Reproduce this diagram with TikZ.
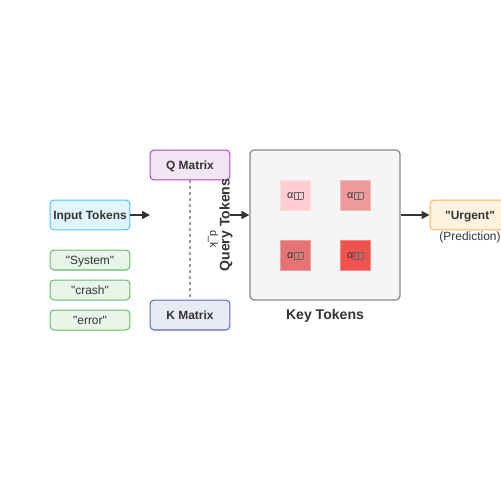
\documentclass[tikz,border=0pt]{standalone}
\usepackage{fontspec}
\setmainfont{Liberation Sans}[Ligatures=TeXOff]
\usetikzlibrary{arrows.meta}

\definecolor{inkgray}{HTML}{333333}
\definecolor{inputfill}{HTML}{E1F5FE}
\definecolor{inputdraw}{HTML}{4FC3F7}
\definecolor{wordfill}{HTML}{E8F5E9}
\definecolor{worddraw}{HTML}{66BB6A}
\definecolor{qfill}{HTML}{F3E5F5}
\definecolor{qdraw}{HTML}{AB47BC}
\definecolor{kfill}{HTML}{E8EAF6}
\definecolor{kdraw}{HTML}{5C6BC0}
\definecolor{gridfill}{HTML}{F5F5F5}
\definecolor{griddraw}{HTML}{888888}
\definecolor{outfill}{HTML}{FFF3E0}
\definecolor{outdraw}{HTML}{FFB74D}
\definecolor{wA}{HTML}{FFCDD2}
\definecolor{wB}{HTML}{EF9A9A}
\definecolor{wC}{HTML}{E57373}
\definecolor{wD}{HTML}{EF5350}

% sizes in px of the 500px picture
\newcommand{\pxten}{\fontsize{6.2pt}{7.4pt}\selectfont}
\newcommand{\pxtwelve}{\fontsize{6.8pt}{8pt}\selectfont}
\newcommand{\pxfourteen}{\fontsize{8pt}{9.5pt}\selectfont}
\newcommand{\nofont}{\kern0.15pt{\color{inkgray!75!white}\setlength{\fboxsep}{0pt}\setlength{\fboxrule}{0.2pt}\fbox{\rule{0pt}{3.9pt}\hspace{2.2pt}}}}

\tikzset{
  box/.style={draw, rounded corners=2.3pt, line width=0.57pt, minimum width=1.6cm,
    minimum height=0.6cm, inner sep=0pt, text=inkgray, font=\pxtwelve\bfseries,
    text height=5.2pt, text depth=0pt},
  word/.style={box, minimum height=0.4cm, fill=wordfill, draw=worddraw, font=\pxtwelve},
  cell/.style={minimum size=0.6cm, inner sep=0pt, line width=0.4pt, text=inkgray, font=\pxten,
    text height=4.4pt, text depth=0pt},
  flow/.style={draw=inkgray, line width=0.85pt, -{Triangle[length=4.5pt,width=4.5pt]}}
}

\begin{document}
\begin{tikzpicture}[x=0.02cm,y=-0.02cm]
\useasboundingbox (0,0) rectangle (500,500);
% inputs
\node[box, fill=inputfill, draw=inputdraw] (input) at (90,215) {Input Tokens};
\node[word] (system) at (90,260) {"System"};
\node[word] (crash) at (90,290) {"crash"};
\node[word] (error) at (90,320) {"error"};
\coordinate (inend) at (150,215);
\draw[flow] (input) -- (inend);
% projections
\node[box, fill=qfill, draw=qdraw] (qmat) at (190,165) {Q Matrix};
\node[box, fill=kfill, draw=kdraw] (kmat) at (190,315) {K Matrix};
\draw[griddraw!85!white, line width=0.6pt, dash pattern=on 1.7pt off 1.7pt] (qmat) -- (kmat);
\node[rotate=90, text=inkgray, font=\pxfourteen\bfseries] (query) at (226,225) {Query Tokens};
\node[rotate=-90, text=inkgray, font=\pxten] (dk) at (213,239) {d\textunderscore k};
% attention grid
\node[draw=griddraw, fill=gridfill, rounded corners=2.3pt, line width=0.7pt,
  minimum size=3cm, inner sep=0pt] (grid) at (325,225) {};
\coordinate (qstart) at (230,215);
\draw[flow] (qstart) -- (grid.west |- qstart);
\node[cell, fill=wA, draw=wA!70!white] (a11) at (295,195) {α\nofont\nofont};
\node[cell, fill=wB, draw=wB!70!white] (a12) at (355,195) {α\nofont\nofont};
\node[cell, fill=wC, draw=wC!70!white] (a21) at (295,255) {α\nofont\nofont};
\node[cell, fill=wD, draw=wD!70!white] (a22) at (355,255) {α\nofont\nofont};
\node[text=inkgray, font=\pxfourteen\bfseries] (keys) at (325,316) {Key Tokens};
% output
\node[box, fill=outfill, draw=outdraw] (urgent) at (470,215) {"Urgent"};
\node[text=inkgray, font=\pxtwelve] (pred) at (470,237) {(Prediction)};
\draw[flow] (grid.east |- urgent) -- (urgent);
\end{tikzpicture}
\end{document}
